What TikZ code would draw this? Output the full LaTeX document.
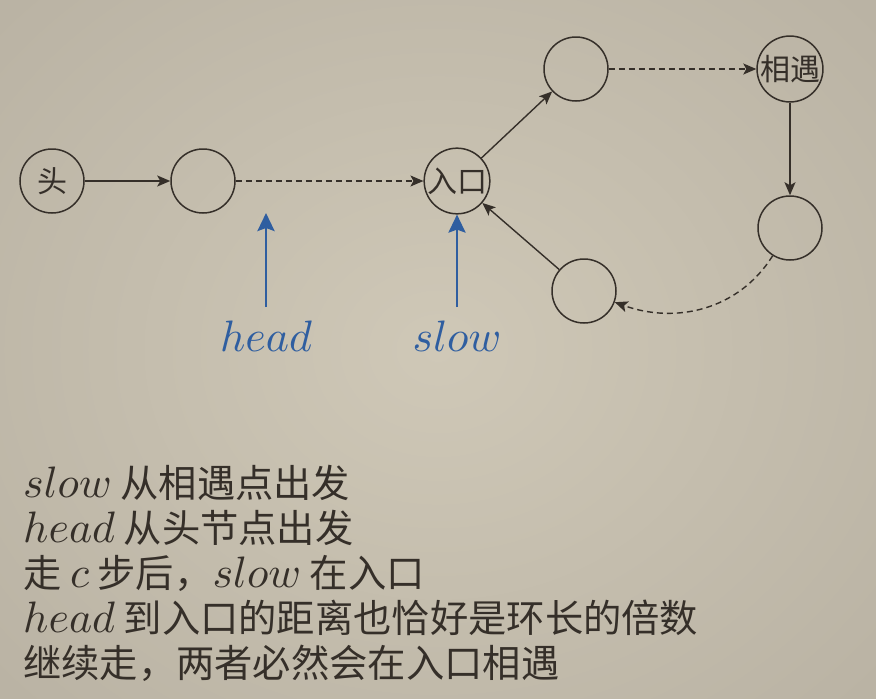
\documentclass[tikz,border=0pt]{standalone}
\DeclareFontFamily{OML}{cmm}{\skewchar\font'177}
\DeclareFontShape{OML}{cmm}{m}{it}{<->cmmi10}{}
\usepackage{fontspec}
\newfontfamily\cjk{Noto Sans CJK SC}
\usetikzlibrary{arrows.meta}
\definecolor{ink}{HTML}{352F29}
\definecolor{bluearr}{HTML}{2F5EA0}
\definecolor{bgin}{HTML}{CFC8B7}
\definecolor{bgout}{HTML}{BAB3A4}
\newcommand\mv[1]{{\fontsize{44}{45}\selectfont$#1$}}
\tikzset{
  nd/.style={circle, draw=ink, line width=1.5pt, minimum size=64pt, inner sep=0pt,
    text=ink, font=\cjk\fontsize{30}{30}\selectfont},
  conn/.style={draw=ink, line width=1.4pt, -{Stealth[length=13pt,width=11pt,inset=3pt]}},
  dconn/.style={conn, dash pattern=on 6pt off 4pt},
  ptr/.style={draw=bluearr, line width=2.8pt, -{Stealth[length=18pt,width=17pt,inset=3pt]}},
  ptrlab/.style={text=bluearr, anchor=base, inner sep=0pt, font=\fontsize{44}{44}\selectfont},
  txt/.style={anchor=base west, inner sep=0pt, text=ink, font=\cjk\fontsize{38.3}{45}\selectfont}
}
\begin{document}
\begin{tikzpicture}[x=1pt,y=1pt]
\useasboundingbox (0,0) rectangle (876,-699);
\shade[inner color=bgin, outer color=bgout] (-150,150) rectangle (1026,-849);
% nodes
\node[nd] (head) at (52,-181) {头};
\node[nd] (n2) at (203,-181) {};
\node[nd] (entry) at (457,-181) {入口};
\node[nd] (top) at (576,-69) {};
\node[nd] (meet) at (790,-69) {相遇};
\node[nd] (right) at (790,-228) {};
\node[nd] (bottom) at (584,-291) {};
% connectors
\draw[conn] (head) -- (n2);
\draw[dconn] (n2) -- (entry);
\draw[conn] (entry) -- (top);
\draw[dconn] (top) -- (meet);
\draw[conn] (meet) -- (right);
\draw[dconn] (right) to[out=238, in=-20, looseness=1.0] (bottom);
\draw[conn] (bottom) -- (entry);
% pointers
\coordinate (hs) at (266,-307);
\coordinate (he) at (266,-213);
\coordinate (ss) at (457,-307);
\draw[ptr] (hs) -- (he);
\draw[ptr] (ss) -- (entry.south);
\node[ptrlab] (hl) at (266,-351) {$head$};
\node[ptrlab] (sl) at (457,-351) {$slow$};
% text
\node[txt] (t1) at (23,-497) {\mv{slow} 从相遇点出发};
\node[txt] (t2) at (23,-542) {\mv{head} 从头节点出发};
\node[txt] (t3) at (23,-587) {走 \mv{c} 步后，\mv{slow} 在入口};
\node[txt] (t4) at (23,-632) {\mv{head} 到入口的距离也恰好是环长的倍数};
\node[txt] (t5) at (23,-677) {继续走，两者必然会在入口相遇};
\end{tikzpicture}
\end{document}
